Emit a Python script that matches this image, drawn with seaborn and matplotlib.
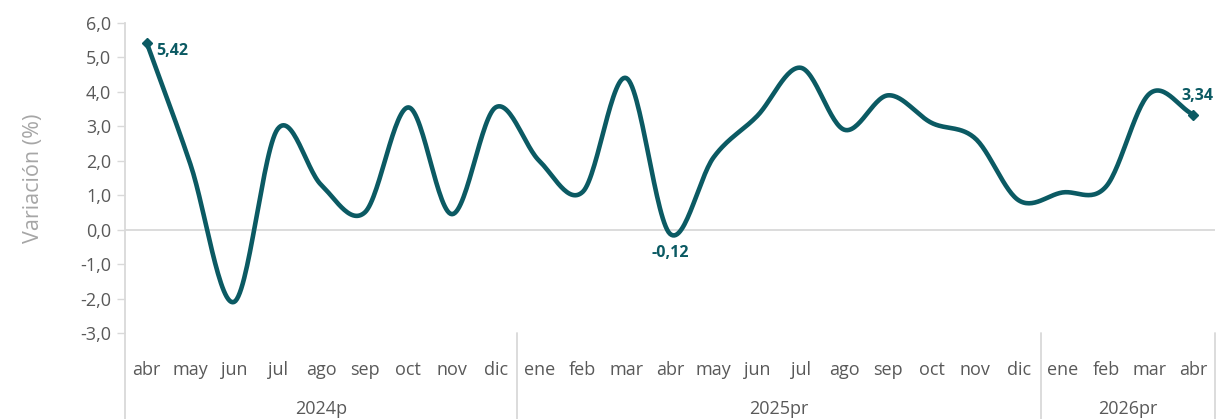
import numpy as np
import pandas as pd
import matplotlib
matplotlib.use("Agg")
import matplotlib.pyplot as plt
import seaborn as sns
from matplotlib.transforms import blended_transform_factory

months = ["abr", "may", "jun", "jul", "ago", "sep", "oct", "nov", "dic",
          "ene", "feb", "mar", "abr", "may", "jun", "jul", "ago", "sep", "oct", "nov", "dic",
          "ene", "feb", "mar", "abr"]
years = ["2024p", "2025pr", "2026pr"]
year_counts = [9, 12, 4]
values = [5.42, 1.9, -2.1, 2.92, 1.3, 0.5, 3.55, 0.45, 3.55,
          2.0, 1.1, 4.4, -0.12, 2.1, 3.3, 4.7, 2.9, 3.9, 3.1, 2.65, 0.85,
          1.08, 1.25, 3.95, 3.34]
labelled = {0: "5,42", 12: "-0,12", 24: "3,34"}

LINE = "#0b5a63"
TXT = "#595959"
GRID = "#d9d9d9"

sns.set_theme(style="white")
plt.rcParams["font.family"] = ["Open Sans", "DejaVu Sans"]


def catmull_rom(x, y, n=30):
    x = np.asarray(x, float)
    y = np.asarray(y, float)
    px = np.concatenate([[2 * x[0] - x[1]], x, [2 * x[-1] - x[-2]]])
    py = np.concatenate([[2 * y[0] - y[1]], y, [2 * y[-1] - y[-2]]])
    xs, ys = [], []
    for i in range(1, len(px) - 2):
        t = np.linspace(0, 1, n, endpoint=False)
        for arr, out in ((px, xs), (py, ys)):
            p0, p1, p2, p3 = arr[i - 1], arr[i], arr[i + 1], arr[i + 2]
            out.append(0.5 * ((2 * p1) + (-p0 + p2) * t
                              + (2 * p0 - 5 * p1 + 4 * p2 - p3) * t ** 2
                              + (-p0 + 3 * p1 - 3 * p2 + p3) * t ** 3))
    xs.append([x[-1]])
    ys.append([y[-1]])
    return np.concatenate(xs), np.concatenate(ys)


idx = np.arange(len(values))
sx, sy = catmull_rom(idx, values)
smooth = pd.DataFrame({"x": sx, "y": sy})

fig = plt.figure(figsize=(12.21, 4.19), dpi=100)
ax = fig.add_axes([125 / 1221, 86 / 419, (1215 - 125) / 1221, (333 - 23) / 419])

ax.axhline(0, color=GRID, lw=1.3, zorder=1)
sns.lineplot(data=smooth, x="x", y="y", ax=ax, color=LINE, lw=3.3, sort=False, zorder=3)
ends = pd.DataFrame({"x": [0, len(values) - 1], "y": [values[0], values[-1]]})
ax.plot(ends["x"], ends["y"], linestyle="none", marker="D", ms=5, color=LINE, zorder=4)

offsets = {0: (7, -6, "left", "center"), 12: (0, -8, "center", "top"), 24: (3, 8, "center", "bottom")}
for i, txt in labelled.items():
    dx, dy, ha, va = offsets[i]
    ax.annotate(txt, (i, values[i]), xytext=(dx, dy), textcoords="offset points",
                ha=ha, va=va, fontsize=11.5, fontweight="bold", color=LINE)

ax.set_xlim(-0.5, len(values) - 0.5)
ax.set_ylim(-3, 6)
ax.set_yticks(np.arange(-3, 7, 1))
ax.set_yticklabels([f"{v:.1f}".replace(".", ",") for v in np.arange(-3, 7, 1)],
                   fontsize=13, color=TXT)
ax.set_xticks(idx)
ax.set_xticklabels(months, fontsize=13, color=TXT)
ax.tick_params(axis="x", length=0, pad=20)
ax.tick_params(axis="y", length=6, width=1, color=GRID, left=True, pad=4)
ax.set_xlabel("")
ax.set_ylabel("Variación (%)", fontsize=15.5, color="#a6a6a6", labelpad=26)

for s in ["top", "right", "bottom"]:
    ax.spines[s].set_visible(False)
ax.spines["left"].set_color(GRID)
ax.spines["left"].set_linewidth(1.3)

trans = blended_transform_factory(ax.transData, ax.transAxes)
bounds = np.concatenate([[0], np.cumsum(year_counts)]) - 0.5
for b in bounds:
    ax.plot([b, b], [0, -0.29], transform=trans, color=GRID, lw=1.3, clip_on=False)
for k, yr in enumerate(years):
    mid = (bounds[k] + bounds[k + 1]) / 2
    ax.text(mid, -0.245, yr, transform=trans, ha="center", va="center",
            fontsize=13, color=TXT)

fig.savefig("out.png", dpi=100, facecolor="white")
